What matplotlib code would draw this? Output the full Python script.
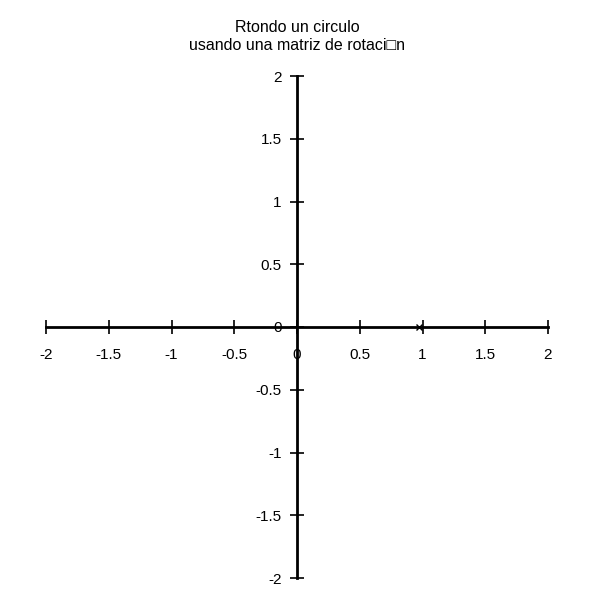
import matplotlib
matplotlib.use("Agg")
import matplotlib.pyplot as plt
import numpy as np

plt.rcParams['font.family'] = ['Liberation Sans', 'DejaVu Sans']

title = "Rtondo un circulo\nusando una matriz de rotaci\u25a1n"
xticks = [-2, -1.5, -1, -0.5, 0, 0.5, 1, 1.5, 2]
yticks = [-2, -1.5, -1, -0.5, 0, 0.5, 1, 1.5, 2]
xlabels = ["-2", "-1.5", "-1", "-0.5", "0", "0.5", "1", "1.5", "2"]
ylabels = ["-2", "-1.5", "-1", "-0.5", "0", "0.5", "1", "1.5", "2"]
point_x = [0.97]
point_y = [0.0]

fig = plt.figure(figsize=(6, 6), dpi=100)
ax = fig.add_axes([46/600, 1 - 578/600, (548-46)/600, (578-76)/600])
ax.set_xlim(-2, 2)
ax.set_ylim(-2, 2)

for s in ['top', 'right']:
    ax.spines[s].set_visible(False)
ax.spines['left'].set_position(('data', 0))
ax.spines['bottom'].set_position(('data', 0))
for s in ['left', 'bottom']:
    ax.spines[s].set_linewidth(2)
    ax.spines[s].set_color('black')

ax.set_xticks(xticks)
ax.set_xticklabels(xlabels)
ax.set_yticks(yticks)
ax.set_yticklabels(ylabels)
ax.tick_params(axis='both', direction='inout', length=10, width=1.2, labelsize=11, colors='black')
ax.tick_params(axis='x', pad=10)
ax.tick_params(axis='y', pad=6)

ax.plot(point_x, point_y, marker='x', markersize=4, color='black', lw=0, clip_on=False)

fig.text(297/600, 1 - 37/600, title, ha='center', va='center', fontsize=11.5, linespacing=1.25)

fig.savefig("out.png", dpi=100, facecolor='white')
